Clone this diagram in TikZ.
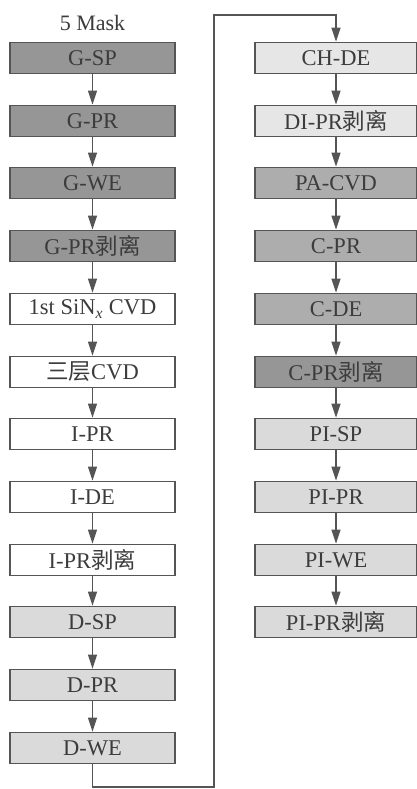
\documentclass[tikz,border=0pt]{standalone}
\usepackage{fontspec}
\setmainfont{Liberation Serif}
\newfontfamily\cjk{Noto Sans CJK SC}
\usetikzlibrary{arrows.meta,positioning}
\definecolor{dk}{HTML}{969696}
\definecolor{md}{HTML}{ADADAD}
\definecolor{lt}{HTML}{DADADA}
\definecolor{pale}{HTML}{E6E6E6}
\definecolor{edge}{HTML}{555555}
\definecolor{ink}{HTML}{3C3C3C}
\newcommand{\boli}{{\cjk 剥离}}

\begin{document}
\begin{tikzpicture}[x=1pt,y=-1pt,
  s/.style={draw=edge,fill=#1,line width=1.8pt,text=ink,font=\fontsize{22.5}{25}\selectfont,minimum width=165pt,minimum height=31pt,inner sep=0pt},
  r/.style={s=#1,minimum width=162pt},
  lk/.style={-{Triangle[length=14pt,width=9pt]},line width=1.4pt,draw=edge}]
  \useasboundingbox (0,0) rectangle (417,789);
  \node[text=ink,font=\fontsize{22}{25}\selectfont] (ttl) at (92.5,23) {5 Mask};
  % left column
  \node[s=dk]    (l1)  at (92.5,58)  {G-SP};
  \node[s=dk]    (l2)  at (92.5,121) {G-PR};
  \node[s=dk]    (l3)  at (92.5,183) {G-WE};
  \node[s=dk]    (l4)  at (92.5,246) {G-PR\boli};
  \node[s=white] (l5)  at (92.5,309) {1st SiN\textsubscript{\itshape x} CVD};
  \node[s=white] (l6)  at (92.5,372) {{\cjk 三层}CVD};
  \node[s=white] (l7)  at (92.5,434) {I-PR};
  \node[s=white] (l8)  at (92.5,497) {I-DE};
  \node[s=white] (l9)  at (92.5,560) {I-PR\boli};
  \node[s=lt]    (l10) at (92.5,622) {D-SP};
  \node[s=lt]    (l11) at (92.5,685) {D-PR};
  \node[s=lt]    (l12) at (92.5,748) {D-WE};
  % right column
  \node[r=pale]  (r1)  at (336,58)  {CH-DE};
  \node[r=pale]  (r2)  at (336,121) {DI-PR\boli};
  \node[r=md]    (r3)  at (336,183) {PA-CVD};
  \node[r=md]    (r4)  at (336,246) {C-PR};
  \node[r=md]    (r5)  at (336,309) {C-DE};
  \node[r=dk]    (r6)  at (336,372) {C-PR\boli};
  \node[r=lt]    (r7)  at (336,434) {PI-SP};
  \node[r=lt]    (r8)  at (336,497) {PI-PR};
  \node[r=lt]    (r9)  at (336,560) {PI-WE};
  \node[r=lt]    (r10) at (336,622) {PI-PR\boli};
  \foreach \i [count=\j from 2] in {1,...,11} \draw[lk] (l\i) -- (l\j);
  \foreach \i [count=\j from 2] in {1,...,9} \draw[lk] (r\i) -- (r\j);
  % jump to second column
  \coordinate (lo) at (214,787);
  \coordinate (hi) at (214,15);
  \draw[lk] (l12.south) |- (lo) -- (hi) -| (r1.north);
\end{tikzpicture}
\end{document}
